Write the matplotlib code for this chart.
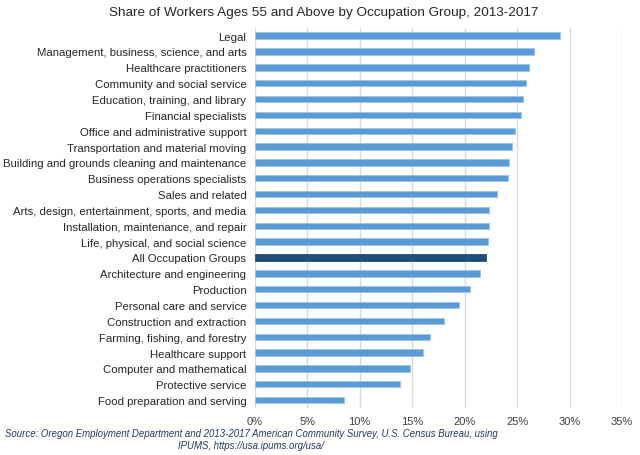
import matplotlib.pyplot as plt
from matplotlib.ticker import PercentFormatter

plt.rcParams['font.family'] = ['Liberation Sans', 'DejaVu Sans']

# Occupation groups, top to bottom as drawn
groups = [
    "Legal",
    "Management, business, science, and arts",
    "Healthcare practitioners",
    "Community and social service",
    "Education, training, and library",
    "Financial specialists",
    "Office and administrative support",
    "Transportation and material moving",
    "Building and grounds cleaning and maintenance",
    "Business operations specialists",
    "Sales and related",
    "Arts, design, entertainment, sports, and media",
    "Installation, maintenance, and repair",
    "Life, physical, and social science",
    "All Occupation Groups",
    "Architecture and engineering",
    "Production",
    "Personal care and service",
    "Construction and extraction",
    "Farming, fishing, and forestry",
    "Healthcare support",
    "Computer and mathematical",
    "Protective service",
    "Food preparation and serving",
]
# share of workers 55+ (%)
shares = [29.1, 26.6, 26.1, 25.8, 25.6, 25.4, 24.8, 24.5, 24.2, 24.1, 23.1, 22.3,
          22.3, 22.2, 22.0, 21.5, 20.5, 19.5, 18.0, 16.7, 16.0, 14.8, 13.8, 8.5]
highlight = "All Occupation Groups"

colors = ['#1F4E79' if g == highlight else '#5B9BD5' for g in groups]
edges = ['#1F4E79' if g == highlight else '#9DC3E6' for g in groups]

fig = plt.figure(figsize=(6.4, 4.56), dpi=100)
ax = fig.add_axes([0.398, 0.103, 0.574, 0.834])

ypos = list(range(len(groups)))[::-1]
ax.barh(ypos, shares, height=0.4, color=colors, edgecolor=edges, linewidth=0.6, zorder=3)

ax.set_xlim(0, 35)
ax.set_ylim(-0.5, len(groups) - 0.5)
ax.set_xticks(range(0, 36, 5))
ax.xaxis.set_major_formatter(PercentFormatter(decimals=0))
ax.set_yticks(ypos)
ax.set_yticklabels(groups)
ax.tick_params(axis='y', length=0, labelsize=8.2, colors='#262626', pad=6)
ax.tick_params(axis='x', length=0, labelsize=8, colors='#404040', pad=6)
ax.grid(axis='x', color='#D9D9D9', linewidth=1, zorder=0)
for s in ax.spines.values():
    s.set_visible(False)

fig.text(0.505, 0.972, "Share of Workers Ages 55 and Above by Occupation Group, 2013-2017",
         ha='center', va='center', fontsize=9.7, color='#262626')
fig.text(0.392, 0.048, "Source: Oregon Employment Department and 2013-2017 American Community Survey, U.S. Census Bureau, using",
         ha='center', va='center', fontsize=6.9, style='italic', color='#243A5E')
fig.text(0.392, 0.023, "IPUMS, https://usa.ipums.org/usa/",
         ha='center', va='center', fontsize=6.9, style='italic', color='#243A5E')

fig.savefig('out.png', dpi=100)
